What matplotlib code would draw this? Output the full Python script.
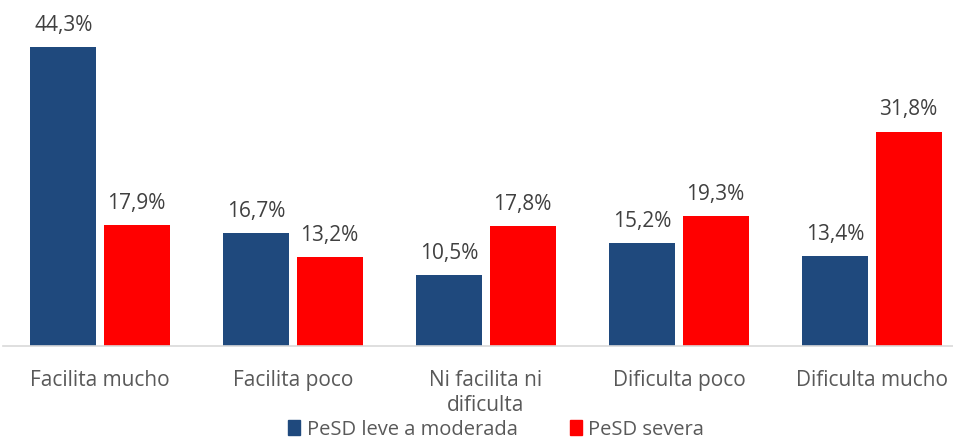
import numpy as np
import matplotlib.pyplot as plt
from matplotlib.patches import Patch

# Datos
categorias = ['Facilita mucho', 'Facilita poco', 'Ni facilita ni\ndificulta',
              'Dificulta poco', 'Dificulta mucho']
leve_moderada = [44.3, 16.7, 10.5, 15.2, 13.4]
severa = [17.9, 13.2, 17.8, 19.3, 31.8]
series = ['PeSD leve a moderada', 'PeSD severa']

azul = '#1F497D'
rojo = '#FF0000'
gris_texto = '#595959'

plt.rcParams['font.family'] = ['Open Sans', 'DejaVu Sans']

fig = plt.figure(figsize=(9.54, 4.38), dpi=100)
ax = fig.add_axes([0.003, 0.21, 0.997, 0.77])

x = np.arange(len(categorias))
ancho = 0.342
desp = 0.19

b1 = ax.bar(x - desp, leve_moderada, ancho, color=azul)
b2 = ax.bar(x + desp, severa, ancho, color=rojo)

for barras, valores in [(b1, leve_moderada), (b2, severa)]:
    for b, v in zip(barras, valores):
        ax.annotate(f'{v:.1f}%'.replace('.', ','),
                    (b.get_x() + b.get_width() / 2, v),
                    xytext=(0, 8), textcoords='offset points',
                    ha='center', va='bottom', fontsize=15, color='#404040')

ax.set_ylim(0, 50)
ax.set_xlim(-0.503, 4.425)
ax.set_yticks([])
ax.set_xticks(x)
ax.set_xticklabels(categorias, fontsize=15, color=gris_texto, linespacing=1.3)
ax.tick_params(axis='x', length=0, pad=17)
for s in ['top', 'right', 'left']:
    ax.spines[s].set_visible(False)
ax.spines['bottom'].set_color('#D9D9D9')
ax.spines['bottom'].set_linewidth(1.2)

handles = [Patch(color=azul), Patch(color=rojo)]
fig.legend(handles, series, loc='lower center', bbox_to_anchor=(0.52, -0.045),
           ncol=2, frameon=False, fontsize=14.5, handlelength=0.6, handleheight=0.8,
           handletextpad=0.3, columnspacing=2.6, labelcolor=gris_texto)

fig.savefig('out.png', dpi=100)
